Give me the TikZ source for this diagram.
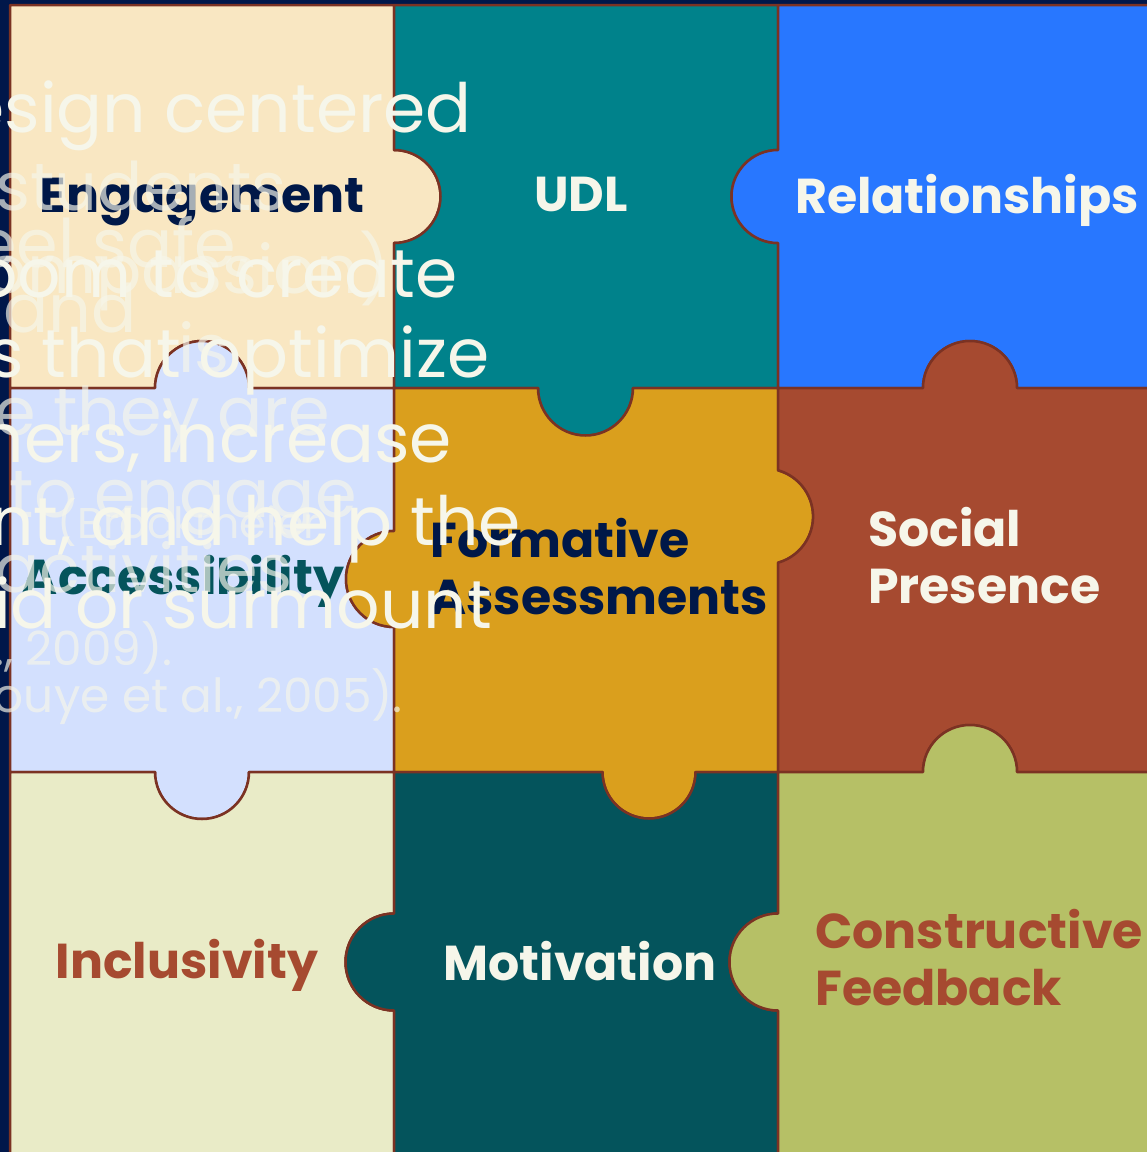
\documentclass[tikz,border=0pt]{standalone}
\usepackage{fontspec}
\setmainfont{Poppins}
\definecolor{navybg}{HTML}{00174A}
\definecolor{edge}{HTML}{7B3223}
\definecolor{cEng}{HTML}{F9E7C2}
\definecolor{cUDL}{HTML}{00828B}
\definecolor{cRel}{HTML}{2877FF}
\definecolor{cAcc}{HTML}{D3E0FE}
\definecolor{cFor}{HTML}{DA9F1D}
\definecolor{cSoc}{HTML}{A64A30}
\definecolor{cInc}{HTML}{E9EBC7}
\definecolor{cMot}{HTML}{04545C}
\definecolor{cCon}{HTML}{B6C066}
\definecolor{cream}{HTML}{F6F6EA}
\definecolor{navytext}{HTML}{001848}
\definecolor{tealtext}{HTML}{05545C}
\definecolor{rusttext}{HTML}{A64A30}
\begin{document}
\begin{tikzpicture}[x=1pt,y=-1pt,
  piece/.style={draw=edge, line width=2.5pt, line join=round},
  label/.style={font=\bfseries\fontsize{49}{57}\selectfont, anchor=base, inner sep=0pt, align=left},
  bigtext/.style={font=\fontsize{68}{80}\selectfont, text=cream, anchor=base east, inner sep=0pt},
  faint/.style={font=\fontsize{67}{80}\selectfont, text=cream, text opacity=0.68, anchor=base east, inner sep=0pt},
  citetext/.style={faint, font=\fontsize{47}{57}\selectfont}]
\useasboundingbox (0,0) rectangle (1147,1152);
\clip (0,0) rectangle (1147,1152);
\fill[navybg] (0,0) rectangle (1147,1152);

% row 1
\filldraw[piece, fill=cEng] (10,5) -- (394,5) -- (394,150) arc[start angle=-90,end angle=90,radius=46.5]
  -- (394,388) -- (249,388) arc[start angle=0,end angle=-180,radius=47] -- (10,388) -- cycle;
\filldraw[piece, fill=cUDL] (394,5) -- (778,5) -- (778,150) arc[start angle=-90,end angle=-270,radius=46.5]
  -- (778,388) -- (633,388) arc[start angle=0,end angle=180,radius=47.5] -- (394,388)
  -- (394,243) arc[start angle=90,end angle=-90,radius=46.5] -- cycle;
\filldraw[piece, fill=cRel] (778,5) -- (1160,5) -- (1160,388) -- (1017,388) arc[start angle=0,end angle=-180,radius=47]
  -- (778,388) -- (778,243) arc[start angle=90,end angle=270,radius=46.5] -- cycle;

% row 2
\filldraw[piece, fill=cAcc] (10,388) -- (155,388) arc[start angle=180,end angle=360,radius=47] -- (394,388)
  -- (394,531) arc[start angle=-90,end angle=-270,radius=48] -- (394,772)
  -- (249,772) arc[start angle=0,end angle=180,radius=47] -- (10,772) -- cycle;
\filldraw[piece, fill=cFor] (394,388) -- (538,388) arc[start angle=180,end angle=0,radius=47.5] -- (778,388)
  -- (778,470.3) arc[start angle=-74.4,end angle=74.4,radius=48] -- (778,772)
  -- (695.5,772) arc[start angle=0,end angle=180,radius=46.5] -- (394,772)
  -- (394,627) arc[start angle=90,end angle=270,radius=48] -- cycle;
\filldraw[piece, fill=cSoc] (778,388) -- (923,388) arc[start angle=180,end angle=360,radius=47] -- (1160,388)
  -- (1160,772) -- (1017,772) arc[start angle=0,end angle=-180,radius=47] -- (778,772)
  -- (778,562.7) arc[start angle=74.4,end angle=-74.4,radius=48] -- cycle;

% row 3
\filldraw[piece, fill=cInc] (10,772) -- (155,772) arc[start angle=180,end angle=0,radius=47] -- (394,772)
  -- (394,913.5) arc[start angle=-90,end angle=-270,radius=48.5] -- (394,1165) -- (10,1165) -- cycle;
\filldraw[piece, fill=cMot] (394,772) -- (602.5,772) arc[start angle=180,end angle=0,radius=46.5] -- (778,772)
  -- (778,913.5) arc[start angle=-90,end angle=-270,radius=48.5] -- (778,1165) -- (394,1165)
  -- (394,1010.5) arc[start angle=90,end angle=270,radius=48.5] -- cycle;
\filldraw[piece, fill=cCon] (778,772) -- (923,772) arc[start angle=180,end angle=360,radius=47] -- (1160,772)
  -- (1160,1165) -- (778,1165) -- (778,1010.5) arc[start angle=90,end angle=270,radius=48.5] -- cycle;

% piece labels (multi-line ones are anchored on their last baseline)
\node[label, text=navytext] (eng) at (202,212) {Engagement};
\node[label, text=cream] (udl) at (581,211) {UDL};
\node[label, text=cream] (rel) at (967,213) {Relationships};
\node[label, text=tealtext] (acc) at (183,594) {Accessibility};
\node[label, anchor=base west, text=navytext] (for) at (430,614) {Formative\\Assessments};
\node[label, anchor=base west, text=cream] (soc) at (868,603) {Social\\Presence};
\node[label, text=rusttext] (inc) at (187,978) {Inclusivity};
\node[label, text=cream] (mot) at (580,980) {Motivation};
\node[label, anchor=base west, text=rusttext] (con) at (815,1005) {Constructive\\Feedback};

% overflowing body text, two layers
\node[faint] (f1) at (287,210) {students};
\node[faint] (f2) at (250,267) {feel safe,};
\node[faint] (f3) at (390,293) {(compassion)};
\node[faint] (f4) at (137,332) {and};
\node[faint] (f5) at (230,372) {is};
\node[faint] (f6) at (330,435) {where they are};
\node[faint] (f7) at (357,517) {to engage};
\node[citetext, font=\fontsize{43}{52}\selectfont] (f8) at (320,538) {(Brockmeier};
\node[faint] (f9) at (293,592) {activities};
\node[citetext] (f10) at (173,665) {et al., 2009).};
\node[citetext] (f11) at (403,712) {(Inouye et al., 2005).};

\node[bigtext] (b1) at (472,132) {design centered};
\node[bigtext] (b2) at (458,297) {room to create};
\node[bigtext] (b3) at (490,377) {designs that optimize};
\node[bigtext] (b4) at (452,462) {learners, increase};
\node[bigtext] (b5) at (521,545) {content, and help the};
\node[bigtext] (b6) at (492,628) {avoid or surmount};
\end{tikzpicture}
\end{document}
